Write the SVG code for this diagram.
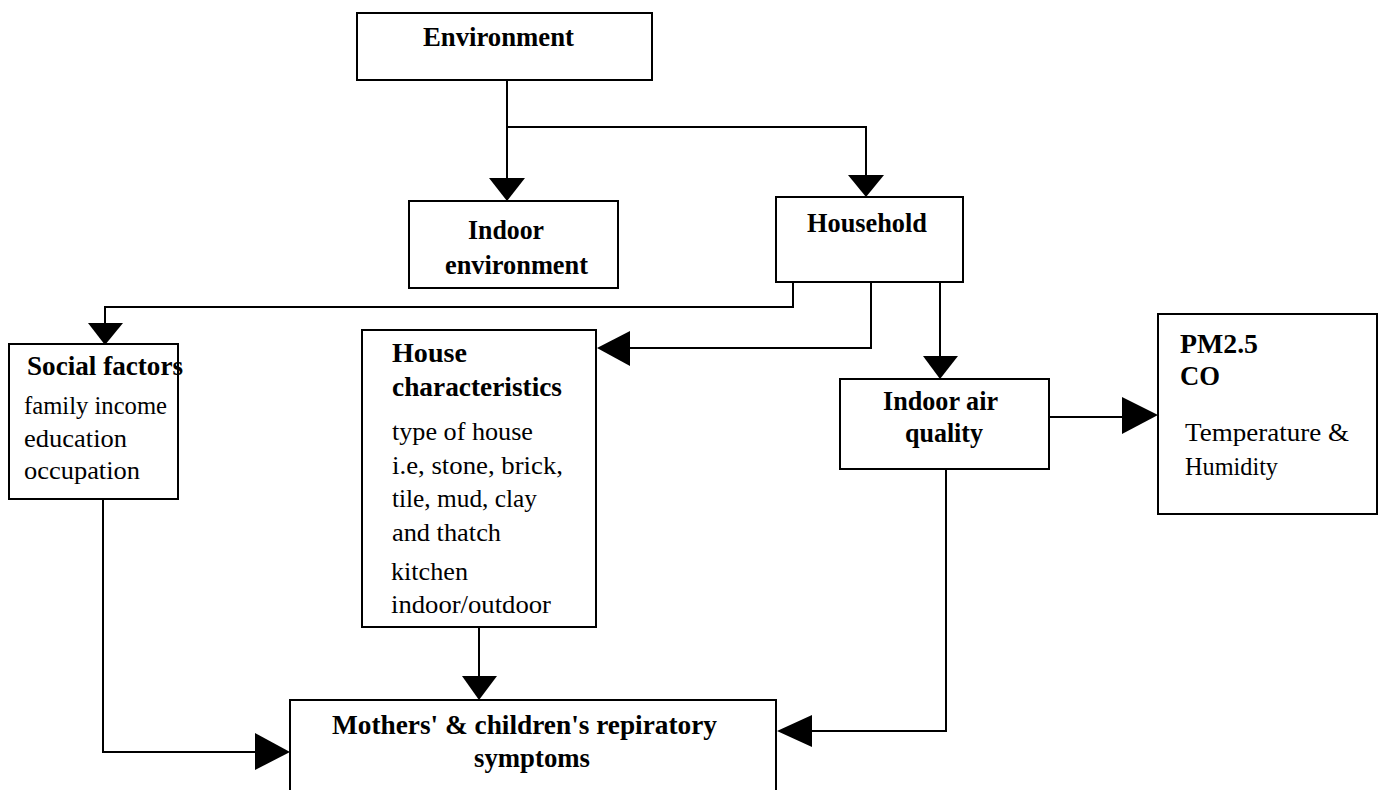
<svg xmlns="http://www.w3.org/2000/svg" width="1385" height="790" viewBox="0 0 1385 790">
  <style>
    .box { fill: #fff; stroke: #000; stroke-width: 2; }
    .wire { fill: none; stroke: #000; stroke-width: 2; }
    .head { fill: #000; stroke: none; }
    text { font-family: "Liberation Serif", "Times New Roman", serif; fill: #000; }
    .b { font-weight: bold; font-size: 27px; }
    .r { font-size: 25px; }
  </style>
  <rect width="1385" height="790" fill="#fff"/>

  <!-- connectors -->
  <g id="connectors">
    <polyline class="wire" points="507,80 507,180"/>
    <polyline class="wire" points="507,127 866,127 866,177"/>
    <polygon class="head" points="489,178 525,178 507,201"/>
    <polygon class="head" points="848,175 884,175 866,197"/>

    <polyline class="wire" points="793,282 793,307 105,307 105,325"/>
    <polygon class="head" points="88,323 123,323 105,345"/>

    <polyline class="wire" points="871,282 871,348 625,348"/>
    <polygon class="head" points="630,331 630,366 597,348"/>

    <polyline class="wire" points="940,282 940,358"/>
    <polygon class="head" points="923,356 958,356 940,379"/>

    <polyline class="wire" points="1049,417 1125,417"/>
    <polygon class="head" points="1122,397 1122,434 1158,415"/>

    <polyline class="wire" points="103,499 103,752 258,752"/>
    <polygon class="head" points="255,733 255,770 290,752"/>

    <polyline class="wire" points="479,627 479,678"/>
    <polygon class="head" points="462,676 497,676 479,700"/>

    <polyline class="wire" points="946,469 946,731 810,731"/>
    <polygon class="head" points="812,715 812,747 777,731"/>
  </g>

  <g id="environment">
    <rect class="box" x="357" y="13" width="295" height="67"/>
    <text class="b" x="423" y="46" textLength="151" lengthAdjust="spacingAndGlyphs">Environment</text>
  </g>

  <g id="indoor-environment">
    <rect class="box" x="409" y="201" width="209" height="87"/>
    <text class="b" x="468" y="239" textLength="76" lengthAdjust="spacingAndGlyphs">Indoor</text>
    <text class="b" x="445" y="274" textLength="143" lengthAdjust="spacingAndGlyphs">environment</text>
  </g>

  <g id="household">
    <rect class="box" x="776" y="197" width="187" height="85"/>
    <text class="b" x="807" y="232" textLength="120" lengthAdjust="spacingAndGlyphs">Household</text>
  </g>

  <g id="social-factors">
    <rect class="box" x="9" y="344" width="169" height="155"/>
    <text class="b" x="27" y="375" textLength="156" lengthAdjust="spacingAndGlyphs">Social factors</text>
    <text class="r" x="24" y="414" textLength="143" lengthAdjust="spacingAndGlyphs">family income</text>
    <text class="r" x="24" y="447" textLength="103" lengthAdjust="spacingAndGlyphs">education</text>
    <text class="r" x="24" y="479" textLength="116" lengthAdjust="spacingAndGlyphs">occupation</text>
  </g>

  <g id="house-characteristics">
    <rect class="box" x="362" y="330" width="234" height="297"/>
    <text class="b" x="392" y="362" textLength="75" lengthAdjust="spacingAndGlyphs">House</text>
    <text class="b" x="392" y="396" textLength="170" lengthAdjust="spacingAndGlyphs">characteristics</text>
    <text class="r" x="392" y="440" textLength="141" lengthAdjust="spacingAndGlyphs">type of house</text>
    <text class="r" x="392" y="474" textLength="171" lengthAdjust="spacingAndGlyphs">i.e, stone, brick,</text>
    <text class="r" x="392" y="507" textLength="145" lengthAdjust="spacingAndGlyphs">tile, mud, clay</text>
    <text class="r" x="392" y="541" textLength="109" lengthAdjust="spacingAndGlyphs">and thatch</text>
    <text class="r" x="391" y="580" textLength="77" lengthAdjust="spacingAndGlyphs">kitchen</text>
    <text class="r" x="391" y="613" textLength="160" lengthAdjust="spacingAndGlyphs">indoor/outdoor</text>
  </g>

  <g id="indoor-air-quality">
    <rect class="box" x="840" y="379" width="209" height="90"/>
    <text class="b" x="883" y="410" textLength="115" lengthAdjust="spacingAndGlyphs">Indoor air</text>
    <text class="b" x="905" y="442" textLength="78" lengthAdjust="spacingAndGlyphs">quality</text>
  </g>

  <g id="pollutants">
    <rect class="box" x="1158" y="314" width="219" height="200"/>
    <text class="b" x="1180" y="353" textLength="78" lengthAdjust="spacingAndGlyphs">PM2.5</text>
    <text class="b" x="1180" y="385" textLength="40" lengthAdjust="spacingAndGlyphs">CO</text>
    <text class="r" x="1185" y="441" textLength="164" lengthAdjust="spacingAndGlyphs">Temperature &amp;</text>
    <text class="r" x="1185" y="475" textLength="93" lengthAdjust="spacingAndGlyphs">Humidity</text>
  </g>

  <g id="symptoms">
    <rect class="box" x="290" y="700" width="486" height="95"/>
    <text class="b" x="332" y="734" textLength="385" lengthAdjust="spacingAndGlyphs">Mothers' &amp; children's repiratory</text>
    <text class="b" x="474" y="767" textLength="116" lengthAdjust="spacingAndGlyphs">symptoms</text>
  </g>
</svg>
